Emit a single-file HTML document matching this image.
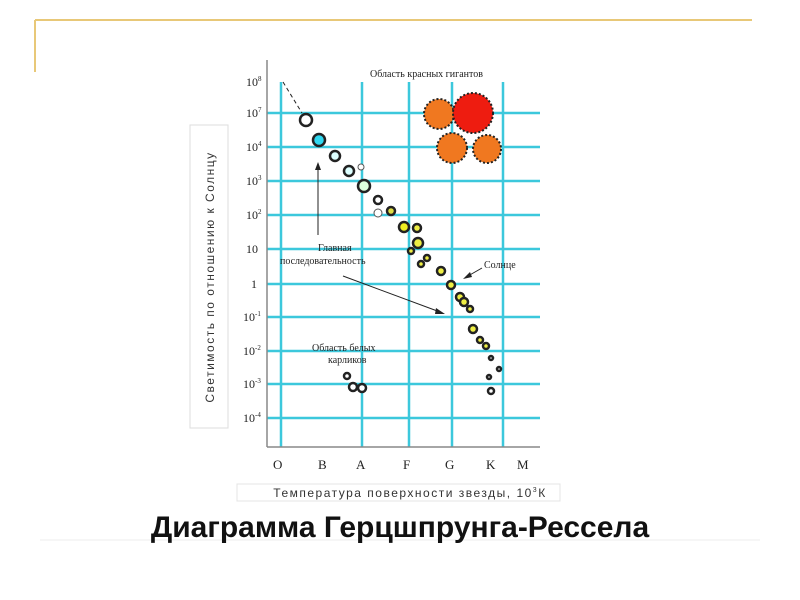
<!DOCTYPE html>
<html><head><meta charset="utf-8"><style>
body{margin:0;background:#fff;width:800px;height:600px;overflow:hidden;position:relative;font-family:"Liberation Sans",sans-serif}
</style></head><body>
<svg width="800" height="600" style="position:absolute;left:0;top:0" font-family="Liberation Serif, serif">
<line x1="35" y1="20" x2="752" y2="20" stroke="#e8c878" stroke-width="2"/>
<line x1="35" y1="20" x2="35" y2="72" stroke="#e8c878" stroke-width="2"/>
<line x1="40" y1="540" x2="760" y2="540" stroke="#eeeeee" stroke-width="1"/>
<!-- grid -->
<g stroke="#3cc8dc" stroke-width="2.5">
<line x1="281" y1="82" x2="281" y2="447"/><line x1="362" y1="82" x2="362" y2="447"/>
<line x1="409" y1="82" x2="409" y2="447"/><line x1="452" y1="82" x2="452" y2="447"/>
<line x1="503" y1="82" x2="503" y2="447"/>
<line x1="267" y1="113" x2="540" y2="113"/><line x1="267" y1="147" x2="540" y2="147"/>
<line x1="267" y1="181" x2="540" y2="181"/><line x1="267" y1="215" x2="540" y2="215"/>
<line x1="267" y1="249" x2="540" y2="249"/><line x1="267" y1="284" x2="540" y2="284"/>
<line x1="267" y1="317" x2="540" y2="317"/><line x1="267" y1="351" x2="540" y2="351"/>
<line x1="267" y1="384" x2="540" y2="384"/><line x1="267" y1="418" x2="540" y2="418"/>
</g>
<g stroke="#888" stroke-width="1.5"><line x1="267" y1="60" x2="267" y2="447"/><line x1="267" y1="447" x2="540" y2="447"/></g>
<g font-size="12" fill="#222">
<text x="246" y="86">10<tspan font-size="7" dy="-5">8</tspan></text>
<text x="246" y="117">10<tspan font-size="7" dy="-5">7</tspan></text>
<text x="246" y="151">10<tspan font-size="7" dy="-5">4</tspan></text>
<text x="246" y="185">10<tspan font-size="7" dy="-5">3</tspan></text>
<text x="246" y="219">10<tspan font-size="7" dy="-5">2</tspan></text>
<text x="246" y="253">10</text>
<text x="251" y="288">1</text>
<text x="243" y="321">10<tspan font-size="7" dy="-5">-1</tspan></text>
<text x="243" y="355">10<tspan font-size="7" dy="-5">-2</tspan></text>
<text x="243" y="388">10<tspan font-size="7" dy="-5">-3</tspan></text>
<text x="243" y="422">10<tspan font-size="7" dy="-5">-4</tspan></text>
</g>
<g font-size="13" fill="#222">
<text x="273" y="469">O</text><text x="318" y="469">B</text><text x="356" y="469">A</text>
<text x="403" y="469">F</text><text x="445" y="469">G</text><text x="486" y="469">K</text><text x="517" y="469">M</text>
</g>
<g font-size="10" fill="#222">
<text x="370" y="77">Область красных гигантов</text>
<text x="318" y="251">Главная</text>
<text x="280" y="264">последовательность</text>
<text x="484" y="268">Солнце</text>
<text x="312" y="351">Область белых</text>
<text x="328" y="363">карликов</text>
</g>
<line x1="283" y1="82" x2="302" y2="113" stroke="#222" stroke-dasharray="4,3"/>
<line x1="318" y1="235" x2="318" y2="168" stroke="#222"/><polygon points="318,162 315,170 321,170" fill="#222"/>
<line x1="343" y1="276" x2="440" y2="312" stroke="#222"/><polygon points="445,314 436,308 435,314" fill="#222"/>
<line x1="482" y1="268" x2="468" y2="276" stroke="#222"/><polygon points="463,279 470,272 472,277" fill="#222"/>
<!-- giants -->
<circle cx="439" cy="114" r="15" fill="#f07820" stroke="#222" stroke-width="2" stroke-dasharray="2,2"/>
<circle cx="473" cy="113" r="20" fill="#ee1c10" stroke="#222" stroke-width="2" stroke-dasharray="2,2"/>
<circle cx="452" cy="148" r="15" fill="#f07820" stroke="#222" stroke-width="2" stroke-dasharray="2,2"/>
<circle cx="487" cy="149" r="14" fill="#f07820" stroke="#222" stroke-width="2" stroke-dasharray="2,2"/>
<!-- main sequence -->
<g stroke="#222" stroke-width="2.5">
<circle cx="306" cy="120" r="6" fill="#fff"/>
<circle cx="319" cy="140" r="6" fill="#30d8f0"/>
<circle cx="335" cy="156" r="5" fill="#dff"/>
<circle cx="349" cy="171" r="5" fill="#dff"/>
<circle cx="364" cy="186" r="6" fill="#dfd"/>
<circle cx="378" cy="200" r="4" fill="#fff"/>
<circle cx="391" cy="211" r="4" fill="#dd4"/>
<circle cx="404" cy="227" r="5" fill="#ee2"/>
<circle cx="417" cy="228" r="4" fill="#ee4"/>
<circle cx="418" cy="243" r="5" fill="#ee4"/>
<circle cx="411" cy="251" r="3" fill="#ee4"/>
<circle cx="427" cy="258" r="3" fill="#ee4"/>
<circle cx="421" cy="264" r="3" fill="#ee4"/>
<circle cx="441" cy="271" r="4" fill="#ee4"/>
<circle cx="451" cy="285" r="4" fill="#ee4"/>
<circle cx="460" cy="297" r="4" fill="#ee4"/>
<circle cx="464" cy="302" r="4" fill="#ee4"/>
<circle cx="470" cy="309" r="3" fill="#ee4"/>
<circle cx="473" cy="329" r="4" fill="#ee4"/>
<circle cx="480" cy="340" r="3" fill="#ee4"/>
<circle cx="486" cy="346" r="3" fill="#ee4"/>
<circle cx="491" cy="358" r="2" fill="#fff"/>
<circle cx="499" cy="369" r="2" fill="#fff"/>
<circle cx="489" cy="377" r="2" fill="#fff"/>
<circle cx="491" cy="391" r="3" fill="#fff"/>
<circle cx="347" cy="376" r="3" fill="#fff"/>
<circle cx="353" cy="387" r="4" fill="#fff"/>
<circle cx="362" cy="388" r="4" fill="#fff"/>
</g>
<circle cx="361" cy="167" r="3" fill="#fff" stroke="#555"/>
<circle cx="378" cy="213" r="4" fill="#fff" stroke="#555"/>
<rect x="190" y="125" width="38" height="303" fill="#fff" stroke="#ddd"/>
<text transform="translate(214,277) rotate(-90)" text-anchor="middle" font-family="Liberation Sans, sans-serif" font-size="12" letter-spacing="1.5" fill="#333">Светимость по отношению к Солнцу</text>
<rect x="237" y="484" width="323" height="17" fill="#fff" stroke="#e4e4e4"/>
<text x="410" y="497" text-anchor="middle" font-family="Liberation Sans, sans-serif" font-size="12" letter-spacing="1.5" fill="#333">Температура поверхности звезды, 10<tspan font-size="7" dy="-5">3</tspan><tspan dy="5">К</tspan></text>
<text x="400" y="537" text-anchor="middle" font-family="Liberation Sans, sans-serif" font-weight="bold" font-size="30" fill="#111">Диаграмма Герцшпрунга-Рессела</text>
</svg>
</body></html>
